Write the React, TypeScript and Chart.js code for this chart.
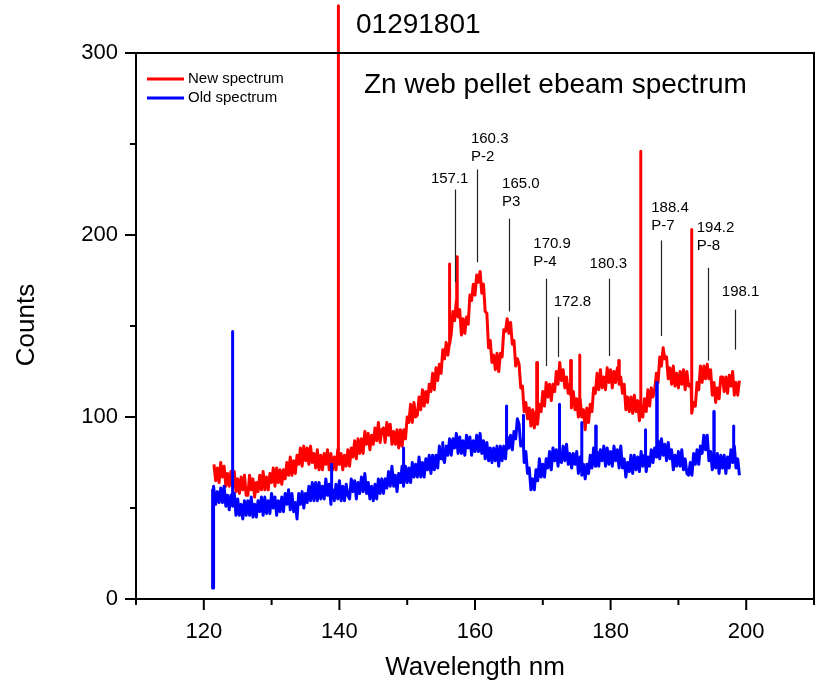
import React, { useEffect, useRef } from "react";
import { Chart, registerables } from "chart.js";
Chart.register(...registerables);

const FONT = '"Liberation Sans", Arial, Helvetica, sans-serif';

// Grid: wavelengths start at 121.5 nm with 0.25 nm step (rows of 5 nm)
const gridStart = 121.5;
const gridStep = 0.25;

const newSpectrum = [
  74, 65, 72, 64, 75, 67, 73, 62, 69, 62, 70, 61, 70, 59, 66, 58, 67, 60, 68, 57,
  57, 68, 60, 66, 56, 64, 59, 68, 60, 70, 60, 67, 60, 69, 64, 72, 62, 72, 64, 71,
  63, 71, 66, 75, 68, 78, 68, 76, 69, 79, 74, 83, 73, 84, 76, 83, 74, 84, 75, 80,
  72, 82, 71, 79, 71, 80, 74, 82, 71, 80, 71, 78, 71, 82, 74, 80, 71, 79, 73, 82,
  73, 83, 78, 87, 77, 88, 80, 88, 80, 92, 85, 91, 82, 90, 85, 94, 87, 97, 86, 93,
  94, 86, 97, 90, 96, 85, 92, 85, 93, 83, 93, 84, 93, 88, 100, 97, 107, 97, 108, 100,
  101, 111, 104, 115, 106, 114, 108, 118, 114, 124, 115, 127, 120, 129, 124, 137, 132, 141, 134, 145,
  146, 158, 153, 164, 155, 159, 145, 154, 146, 155, 151, 167, 164, 173, 167, 178, 174, 180, 168, 173,
  158, 157, 138, 142, 130, 134, 126, 135, 125, 135, 133, 148, 147, 154, 146, 152, 140, 142, 128, 132,
  129, 116, 117, 103, 108, 99, 105, 95, 104, 94, 103, 96, 107, 103, 114, 106, 119, 111, 118, 109,
  118, 114, 125, 118, 130, 120, 126, 116, 122, 113, 118, 105, 114, 104, 110, 100, 110, 100, 104, 93,
  105, 97, 107, 103, 116, 113, 124, 115, 126, 116, 122, 115, 127, 119, 126, 116, 125, 119, 127, 118,
  122, 113, 118, 104, 111, 103, 111, 102, 112, 103, 109, 98, 106, 100, 110, 103, 115, 106, 116, 111,
  115, 124, 119, 133, 128, 138, 132, 133, 121, 127, 118, 128, 117, 124, 116, 125, 118, 126, 115, 125,
  117, 118, 102, 108, 106, 119, 115, 128, 119, 128, 121, 129, 121, 126, 112, 119, 108, 116, 110, 122,
  122, 114, 122, 113, 123, 117, 125, 112, 119, 112, 120,
];

const oldSpectrum = [
  62, 52, 59, 53, 61, 53, 62, 51, 57, 49, 57, 51, 58, 46, 55, 46, 52, 44, 54, 46,
  54, 46, 56, 45, 52, 45, 54, 48, 56, 46, 56, 47, 54, 47, 58, 50, 56, 46, 54, 48,
  56, 48, 58, 52, 60, 49, 58, 48, 53, 44, 58, 52, 59, 50, 58, 53, 62, 54, 64, 54,
  64, 54, 64, 55, 62, 55, 66, 57, 63, 52, 60, 54, 63, 55, 65, 54, 62, 54, 63, 57,
  55, 66, 59, 65, 55, 64, 58, 67, 59, 69, 58, 64, 55, 62, 54, 63, 55, 66, 58, 66,
  58, 66, 61, 70, 62, 73, 62, 68, 59, 69, 64, 73, 62, 73, 64, 72, 64, 75, 67, 74,
  67, 78, 67, 75, 67, 77, 71, 79, 69, 79, 71, 79, 72, 84, 77, 84, 75, 84, 79, 88,
  79, 88, 83, 91, 80, 89, 80, 87, 79, 90, 83, 89, 79, 87, 81, 90, 81, 91, 80, 87,
  77, 86, 76, 83, 75, 83, 76, 84, 73, 84, 76, 84, 77, 89, 83, 90, 82, 92, 88, 99,
  96, 84, 87, 75, 81, 69, 72, 60, 66, 60, 71, 65, 77, 67, 74, 67, 77, 72, 81, 71,
  83, 76, 82, 73, 81, 75, 84, 76, 85, 74, 80, 72, 80, 74, 81, 69, 78, 68, 74, 66,
  74, 69, 79, 72, 83, 73, 81, 73, 82, 76, 84, 73, 83, 74, 81, 73, 84, 76, 82, 72,
  84, 72, 77, 67, 75, 70, 79, 69, 79, 71, 78, 70, 81, 73, 79, 70, 78, 73, 82, 75,
  83, 78, 87, 77, 88, 79, 85, 76, 86, 77, 82, 71, 79, 73, 81, 73, 82, 71, 77, 69,
  68, 75, 68, 80, 74, 82, 74, 84, 80, 90, 82, 90, 76, 81, 71, 79, 72, 80, 69, 79,
  72, 79, 69, 78, 72, 82, 75, 84, 72, 77, 68,
];

// Narrow emission spikes: wavelength, level at foot, level at top
const newSpikeNm = [139.8, 156.2, 157.3, 169.1, 174.1, 175.4, 181.2, 184.4, 191.9];
const newSpikeBase = [75, 140, 158, 98, 112, 104, 122, 104, 115];
const newSpikePeak = [326, 184, 188, 130, 131, 134, 131, 246, 203];

const oldSpikeNm = [121.3, 124.2, 138.8, 149.4, 155.2, 164.6, 167.1, 172.4, 175.7, 177.8, 185.1, 186.8, 195.2, 198.1];
const oldSpikeBase = [60, 55, 60, 65, 78, 82, 84, 79, 74, 76, 75, 80, 75, 78];
const oldSpikePeak = [6, 147, 74, 83, 86, 106, 101, 107, 97, 95, 93, 119, 103, 95];

// Peak annotations
const annoLabels = [["157.1"], ["160.3", "P-2"], ["165.0", "P3"], ["170.9", "P-4"], ["172.8"], ["180.3"], ["188.4", "P-7"], ["194.2", "P-8"], ["198.1"]];
const annoLineNm = [157.1, 160.3, 165.0, 170.5, 172.3, 179.7, 187.5, 194.4, 198.3];
const annoLineTop = [225, 236, 209, 176, 155, 176, 197, 182, 159];
const annoLineBottom = [174, 185, 158, 128, 133, 133.5, 144.5, 131, 137];
const annoTextNm = [153.5, 159.4, 164.0, 168.6, 171.6, 176.9, 186.0, 192.7, 196.4];
const annoTextCount = [231, 253, 228, 195, 163, 184, 215, 204, 169];

const xLabels = [120, 140, 160, 180, 200];
const yLabels = [0, 100, 200, 300];

const seriesNames = ["New spectrum", "Old spectrum"];
const seriesColors = ["#ff0000", "#0000ff"];

function buildSeries(values: number[], spikeNm: number[], spikeBase: number[], spikePeak: number[]) {
  const pts: { x: number; y: number }[] = values.map((v, i) => ({ x: +(gridStart + i * gridStep).toFixed(3), y: v }));
  spikeNm.forEach((nm, k) => {
    pts.push({ x: nm, y: spikeBase[k] });
    pts.push({ x: nm, y: spikePeak[k] });
    pts.push({ x: nm + 0.08, y: spikePeak[k] });
    pts.push({ x: nm + 0.08, y: spikeBase[k] });
  });
  return pts.sort((a, b) => a.x - b.x);
}

const decorPlugin = {
  id: "decor",
  afterDraw(chart: any) {
    const { ctx, chartArea: a, scales } = chart;
    const xs = scales.x;
    const ys = scales.y;
    ctx.save();
    ctx.strokeStyle = "#000";
    ctx.lineWidth = 2;
    ctx.strokeRect(a.left, a.top, a.right - a.left, a.bottom - a.top);
    xs.ticks.forEach((t: any) => {
      const px = xs.getPixelForValue(t.value);
      const len = xLabels.includes(t.value) ? 11 : 6;
      ctx.beginPath();
      ctx.moveTo(px, a.bottom);
      ctx.lineTo(px, a.bottom + len);
      ctx.stroke();
    });
    ys.ticks.forEach((t: any) => {
      const py = ys.getPixelForValue(t.value);
      const len = yLabels.includes(t.value) ? 11 : 6;
      ctx.beginPath();
      ctx.moveTo(a.left, py);
      ctx.lineTo(a.left - len, py);
      ctx.stroke();
    });
    ctx.strokeStyle = "#222";
    ctx.lineWidth = 1.2;
    ctx.fillStyle = "#000";
    ctx.font = `15px ${FONT}`;
    ctx.textAlign = "left";
    ctx.textBaseline = "middle";
    annoLineNm.forEach((nm, i) => {
      const px = Math.round(xs.getPixelForValue(nm)) + 0.5;
      ctx.beginPath();
      ctx.moveTo(px, ys.getPixelForValue(annoLineTop[i]));
      ctx.lineTo(px, ys.getPixelForValue(annoLineBottom[i]));
      ctx.stroke();
      const tx = xs.getPixelForValue(annoTextNm[i]);
      const ty = ys.getPixelForValue(annoTextCount[i]);
      annoLabels[i].forEach((s, j) => ctx.fillText(s, tx, ty + j * 18));
    });
    seriesNames.forEach((name, i) => {
      const y = a.top + 26 + i * 19;
      ctx.strokeStyle = seriesColors[i];
      ctx.lineWidth = 3;
      ctx.beginPath();
      ctx.moveTo(a.left + 11, y);
      ctx.lineTo(a.left + 48, y);
      ctx.stroke();
      ctx.fillStyle = "#000";
      ctx.font = `15px ${FONT}`;
      ctx.fillText(name, a.left + 52, y);
    });
    ctx.font = `28px ${FONT}`;
    ctx.fillText("01291801", 356, 25);
    ctx.fillText("Zn web pellet ebeam spectrum", 364, 85);
    ctx.font = `26px ${FONT}`;
    ctx.textAlign = "center";
    ctx.fillText("Wavelength nm", 475, 668);
    ctx.translate(27, 325);
    ctx.rotate(-Math.PI / 2);
    ctx.fillText("Counts", 0, 0);
    ctx.restore();
  },
};

export default function App() {
  const ref = useRef<HTMLCanvasElement | null>(null);
  useEffect(() => {
    document.body.style.margin = "0";
    const chart = new Chart(ref.current as HTMLCanvasElement, {
      type: "line",
      data: {
        datasets: [
          {
            label: seriesNames[0],
            data: buildSeries(newSpectrum, newSpikeNm, newSpikeBase, newSpikePeak),
            borderColor: seriesColors[0],
            borderWidth: 3,
            pointRadius: 0,
            tension: 0,
            borderJoinStyle: "round",
            clip: false,
            order: 2,
          } as any,
          {
            label: seriesNames[1],
            data: buildSeries(oldSpectrum, oldSpikeNm, oldSpikeBase, oldSpikePeak),
            borderColor: seriesColors[1],
            borderWidth: 3,
            pointRadius: 0,
            tension: 0,
            borderJoinStyle: "round",
            clip: false,
            order: 1,
          } as any,
        ],
      },
      options: {
        responsive: false,
        animation: false,
        devicePixelRatio: 1,
        layout: { padding: { left: 0, right: 2, top: 53, bottom: 0 } },
        plugins: { legend: { display: false }, tooltip: { enabled: false }, title: { display: false } },
        scales: {
          x: {
            type: "linear",
            min: 110,
            max: 210,
            afterFit: (s: any) => { s.height = 94; s.paddingLeft = 0; s.paddingRight = 0; },
            grid: { display: false, drawTicks: false },
            border: { display: false },
            ticks: {
              stepSize: 10,
              autoSkip: false,
              maxRotation: 0,
              padding: 20,
              color: "#000",
              font: { family: FONT, size: 22 },
              callback: (v: any) => (xLabels.includes(v) ? String(v) : ""),
            },
          },
          y: {
            type: "linear",
            min: 0,
            max: 300,
            afterFit: (s: any) => { s.width = 136; s.paddingTop = 0; s.paddingBottom = 0; },
            grid: { display: false, drawTicks: false },
            border: { display: false },
            ticks: {
              stepSize: 50,
              padding: 18,
              color: "#000",
              font: { family: FONT, size: 22 },
              callback: (v: any) => (yLabels.includes(v) ? String(v) : ""),
            },
          },
        },
      } as any,
      plugins: [decorPlugin],
    });
    return () => chart.destroy();
  }, []);
  return <canvas ref={ref} width={816} height={693} style={{ display: "block" }} />;
}
